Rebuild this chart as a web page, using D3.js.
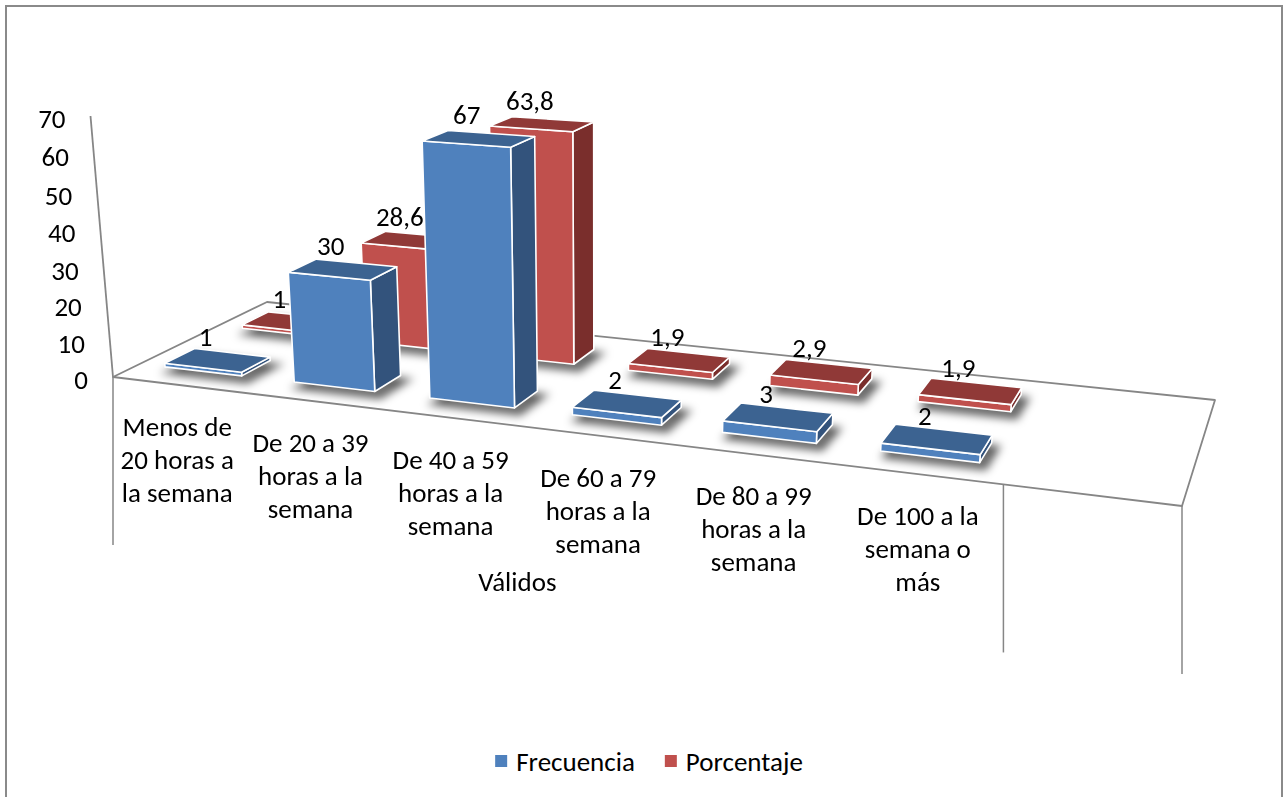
<!DOCTYPE html>
<html>
<head>
<meta charset="utf-8">
<script src="https://cdn.jsdelivr.net/npm/d3@7"></script>
<style>
  html, body { margin: 0; padding: 0; background: #fff; }
  svg { display: block; }
  text { font-family: Carlito, Calibri, Lato, sans-serif; fill: #000; }
</style>
</head>
<body>
<svg id="chart" width="1288" height="797"></svg>
<script>
// ---- data ----
const categories = [
  "Menos de 20 horas a la semana",
  "De 20 a 39 horas a la semana",
  "De 40 a 59 horas a la semana",
  "De 60 a 79 horas a la semana",
  "De 80 a 99 horas a la semana",
  "De 100 a la semana o más",
  ""
];
const frecuencia = [1, 30, 67, 2, 3, 2, null];
const porcentaje = [1, 28.6, 63.8, 1.9, 2.9, 1.9, null];
const seriesNames = ["Frecuencia", "Porcentaje"];
const groupLabels = ["Válidos", ""];
const groupSpans = [6, 1];
const yTicks = [0, 10, 20, 30, 40, 50, 60, 70];

// ---- styling ----
const palette = {
  Frecuencia: { front: "#4F81BD", top: "#3C6391", side: "#33537C" },
  Porcentaje: { front: "#C0504D", top: "#903937", side: "#7A2E2C" }
};
const fontSize = 27;
const gridColor = "#868686";

// ---- 3D view: floor quad in screen space, value axis top, vertical vanishing row ----
const floorQuad = { fl: [113, 377], fr: [1182, 506], br: [1215, 400], bl: [267, 302] };
const axisTop = [90.5, 116];
const vanishY = 6000;

// homography for the floor (unit square -> quad)
function squareToQuad(p0, p1, p2, p3) {
  const [x0, y0] = p0, [x1, y1] = p1, [x2, y2] = p2, [x3, y3] = p3;
  const dx1 = x1 - x2, dy1 = y1 - y2, dx2 = x3 - x2, dy2 = y3 - y2;
  const dx3 = x0 - x1 + x2 - x3, dy3 = y0 - y1 + y2 - y3;
  const den = dx1 * dy2 - dx2 * dy1;
  const g = (dx3 * dy2 - dx2 * dy3) / den;
  const h = (dx1 * dy3 - dx3 * dy1) / den;
  return {
    a: x1 - x0 + g * x1, b: x3 - x0 + h * x3, c: x0,
    d: y1 - y0 + g * y1, e: y3 - y0 + h * y3, f: y0,
    g: g, h: h
  };
}
const H = squareToQuad(floorQuad.fl, floorQuad.fr, floorQuad.br, floorQuad.bl);
// vertical direction: vanishing point on the value-axis line
const tV = (vanishY - floorQuad.fl[1]) / (axisTop[1] - floorQuad.fl[1]);
const vanishX = floorQuad.fl[0] + (axisTop[0] - floorQuad.fl[0]) * tV;
const K = (axisTop[1] - floorQuad.fl[1]) / (vanishY - axisTop[1]);

// scales: u = category direction, v = depth (series rows), hn = normalised height
const nSlots = categories.length;
const xBand = d3.scaleBand().domain(d3.range(nSlots)).range([0, 1])
  .paddingInner(0.4).paddingOuter(0.2);
const slotScale = d3.scaleLinear().domain([0, nSlots]).range([0, 1]);
const zBand = d3.scaleBand().domain(seriesNames).range([0, 1])
  .paddingInner(0.63).paddingOuter(0.315);
const yScale = d3.scaleLinear().domain([0, 70]).range([0, 1]);

function project(u, v, val) {
  const hn = yScale(val);
  const w = H.g * u + H.h * v + K * hn + 1;
  const X = (H.a * u + H.b * v + K * hn * vanishX + H.c) / w;
  const Y = (H.d * u + H.e * v + K * hn * vanishY + H.f) / w;
  return [X, Y];
}

const svg = d3.select("#chart");
const defs = svg.append("defs");
const blur = defs.append("filter").attr("id", "baseShadow")
  .attr("x", "-50%").attr("y", "-50%").attr("width", "200%").attr("height", "200%");
blur.append("feGaussianBlur").attr("stdDeviation", 4.5);

// chart frame
svg.append("rect").attr("x", 6).attr("y", 6).attr("width", 1276).attr("height", 820)
  .attr("fill", "#fff").attr("stroke", "#8a8a8a").attr("stroke-width", 2);

const line = d3.line();
const poly = pts => line(pts) + "Z";

// floor
svg.append("path")
  .attr("d", poly([project(0, 0, 0), project(1, 0, 0), project(1, 1, 0), project(0, 1, 0)]))
  .attr("fill", "#fff").attr("stroke", gridColor).attr("stroke-width", 1.8)
  .attr("stroke-linejoin", "round");

// value axis line
svg.append("path").attr("d", line([project(0, 0, 0), project(0, 0, 70)]))
  .attr("stroke", gridColor).attr("stroke-width", 1.8).attr("fill", "none");

// group separator lines under the category labels
const bounds = [0, ...d3.cumsum(groupSpans)];
bounds.forEach(b => {
  const p = project(slotScale(b), 0, 0);
  svg.append("line").attr("x1", p[0]).attr("y1", p[1]).attr("x2", p[0]).attr("y2", p[1] + 168)
    .attr("stroke", gridColor).attr("stroke-width", 1.5);
});

// bar records, back row first, left to right
const seriesValues = { Frecuencia: frecuencia, Porcentaje: porcentaje };
const bars = [];
["Porcentaje", "Frecuencia"].forEach(s => {
  seriesValues[s].forEach((val, i) => {
    if (val == null) return;
    const u0 = xBand(i), u1 = u0 + xBand.bandwidth();
    const v0 = zBand(s), v1 = v0 + zBand.bandwidth();
    bars.push({ s, i, val, u0, u1, v0, v1 });
  });
});

// soft shadows around the bar bases
svg.append("g").attr("filter", "url(#baseShadow)")
  .selectAll("path").data(bars).join("path")
  .attr("d", d => poly([
    project(d.u0, d.v0, 0), project(d.u1, d.v0, 0),
    project(d.u1, d.v1, 0), project(d.u0, d.v1, 0)
  ]))
  .attr("transform", "translate(5,5)")
  .attr("fill", "#000").attr("fill-opacity", 0.5)
  .attr("stroke", "#000").attr("stroke-opacity", 0.5).attr("stroke-width", 6);

// bars: right side, front and top faces
const barG = svg.append("g");
bars.forEach(d => {
  const c = palette[d.s];
  const g = barG.append("g").attr("stroke", "#fff").attr("stroke-width", 1.6)
    .attr("stroke-linejoin", "round");
  g.append("path").attr("fill", c.side).attr("d", poly([
    project(d.u1, d.v0, 0), project(d.u1, d.v1, 0),
    project(d.u1, d.v1, d.val), project(d.u1, d.v0, d.val)
  ]));
  g.append("path").attr("fill", c.front).attr("d", poly([
    project(d.u0, d.v0, 0), project(d.u1, d.v0, 0),
    project(d.u1, d.v0, d.val), project(d.u0, d.v0, d.val)
  ]));
  g.append("path").attr("fill", c.top).attr("d", poly([
    project(d.u0, d.v0, d.val), project(d.u1, d.v0, d.val),
    project(d.u1, d.v1, d.val), project(d.u0, d.v1, d.val)
  ]));
});

// value labels
const fmt = v => String(v).replace(".", ",");
svg.append("g").selectAll("text").data(bars).join("text")
  .attr("x", d => project((d.u0 + d.u1) / 2, (d.v0 + d.v1) / 2, d.val)[0] - 12)
  .attr("y", d => project((d.u0 + d.u1) / 2, (d.v0 + d.v1) / 2, d.val)[1] - 24)
  .attr("text-anchor", "middle").attr("dominant-baseline", "central")
  .attr("font-size", fontSize)
  .text(d => fmt(d.val));

// value axis tick labels
svg.append("g").selectAll("text").data(yTicks).join("text")
  .attr("x", t => project(0, 0, t)[0] - 25)
  .attr("y", t => project(0, 0, t)[1] + 2)
  .attr("text-anchor", "end").attr("dominant-baseline", "central")
  .attr("font-size", fontSize)
  .text(t => t);

// category labels, wrapped to the slot width
const wrapWidth = 5.05 * fontSize;
const catG = svg.append("g");
categories.forEach((name, i) => {
  if (!name) return;
  const p = project(slotScale(i + 0.5), 0, 0);
  const t = catG.append("text").attr("font-size", fontSize).attr("text-anchor", "middle")
    .attr("dominant-baseline", "central");
  const words = name.split(" ");
  const lines = [];
  let cur = [];
  const probe = catG.append("text").attr("font-size", fontSize);
  words.forEach(w => {
    const trial = cur.concat([w]).join(" ");
    probe.text(trial);
    if (cur.length && probe.node().getComputedTextLength() > wrapWidth) {
      lines.push(cur.join(" "));
      cur = [w];
    } else {
      cur.push(w);
    }
  });
  lines.push(cur.join(" "));
  probe.remove();
  lines.forEach((ln, j) => {
    t.append("tspan").attr("x", p[0]).attr("y", p[1] + 41 + j * 33).text(ln);
  });
});

// outer group labels
let start = 0;
groupLabels.forEach((lab, k) => {
  const span = groupSpans[k];
  if (lab) {
    const p = project(slotScale(start + span / 2), 0, 0);
    svg.append("text").attr("x", p[0] - 6).attr("y", p[1] + 155)
      .attr("text-anchor", "middle").attr("dominant-baseline", "central")
      .attr("font-size", fontSize).text(lab);
  }
  start += span;
});

// legend
const legend = svg.append("g");
const items = seriesNames.map(s => {
  const g = legend.append("g");
  g.append("rect").attr("width", 12).attr("height", 12).attr("y", -6).attr("fill", palette[s].front);
  const tx = g.append("text").attr("x", 21).attr("y", 0).attr("dominant-baseline", "central")
    .attr("font-size", fontSize).text(s);
  return { g, w: 21 + tx.node().getComputedTextLength() };
});
const gap = 30;
const totalW = d3.sum(items, d => d.w) + gap * (items.length - 1);
let lx = 649 - totalW / 2;
items.forEach(it => {
  it.g.attr("transform", `translate(${lx},761)`);
  lx += it.w + gap;
});
</script>
</body>
</html>
